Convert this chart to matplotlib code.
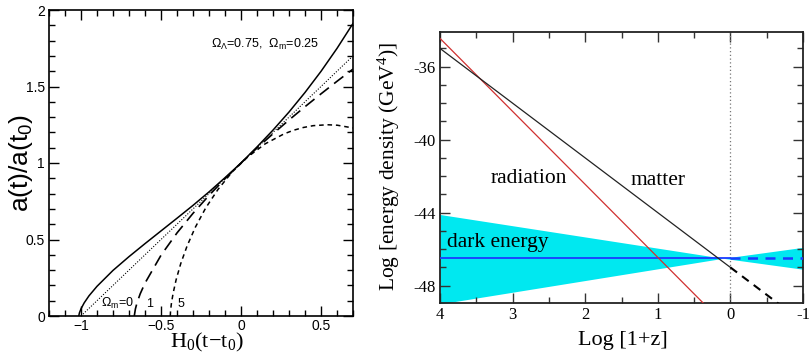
import matplotlib
matplotlib.use("Agg")
from matplotlib import pyplot as plt
from matplotlib.ticker import MultipleLocator

# left panel: scale factor vs H0(t - t0)
tau_lcdm = [-1.014, -1.01, -1.0, -0.98, -0.95, -0.9, -0.8, -0.7, -0.6, -0.5, -0.4,
            -0.3, -0.2, -0.1, 0.0, 0.1, 0.2, 0.3, 0.4, 0.5, 0.6, 0.7]
a_lcdm = [0.0, 0.020, 0.047, 0.086, 0.132, 0.194, 0.298, 0.388, 0.473, 0.556, 0.639,
          0.723, 0.811, 0.904, 1.0, 1.105, 1.215, 1.333, 1.461, 1.599, 1.749, 1.912]

tau_om0 = [-1.0, 0.7]
a_om0 = [0.0, 1.7]

tau_om1 = [-0.667, -0.66, -0.65, -0.63, -0.6, -0.5, -0.4, -0.3, -0.2, -0.1, 0.0,
           0.1, 0.2, 0.3, 0.4, 0.5, 0.6, 0.7]
a_om1 = [0.0, 0.046, 0.086, 0.145, 0.215, 0.397, 0.543, 0.671, 0.788, 0.897, 1.0,
         1.098, 1.191, 1.281, 1.368, 1.452, 1.534, 1.614]

tau_om5 = [-0.442, -0.4406, -0.4356, -0.4246, -0.4055, -0.3768, -0.3369, -0.285,
           -0.2207, -0.144, -0.0555, 0.0437, 0.1522, 0.2682, 0.3283, 0.3895, 0.4514,
           0.5397, 0.6013, 0.7003]
a_om5 = [0.0, 0.028, 0.077, 0.147, 0.237, 0.342, 0.458, 0.581, 0.706, 0.827, 0.941,
         1.041, 1.126, 1.190, 1.214, 1.232, 1.244, 1.25, 1.247, 1.229]

# right panel: log energy density vs log(1+z)
rad_x = [4.0, 0.0]
rad_y = [-34.45, -50.45]
mat_x = [4.0, 0.0]
mat_y = [-35.0, -47.0]
mat_future_x = [0.0, -0.7]
mat_future_y = [-47.0, -49.1]
de_level = -46.5
band_x = [4.0, 0.1, -1.0]
band_hi = [-44.1, -46.5, -45.9]
band_lo = [-49.0, -46.5, -47.1]

sans = "Liberation Sans"
serif = "Liberation Serif"

fig = plt.figure(figsize=(8.09, 3.55), dpi=100)

# ---- left
ax1 = fig.add_axes([49/809, 39/355, 304/809, 306/355])
ax1.plot(tau_lcdm, a_lcdm, color="k", lw=1.1)
ax1.plot(tau_om0, a_om0, color="k", lw=0.8, ls=(0, (1, 1.5)))
ax1.plot(tau_om1, a_om1, color="k", lw=1.2, ls=(0, (7, 4)))
ax1.plot(tau_om5, a_om5, color="k", lw=1.1, ls=(0, (3, 2.5)))
ax1.set_xlim(-1.2, 0.7)
ax1.set_ylim(0, 2)
ax1.xaxis.set_major_locator(MultipleLocator(0.5))
ax1.xaxis.set_minor_locator(MultipleLocator(0.1))
ax1.yaxis.set_major_locator(MultipleLocator(0.5))
ax1.yaxis.set_minor_locator(MultipleLocator(0.1))
ax1.xaxis.set_major_formatter(lambda v, p: "0" if abs(v) < 1e-9 else f"{v:g}".replace("-", "\u2212"))
ax1.yaxis.set_major_formatter(lambda v, p: f"{v:g}")
ax1.tick_params(which="both", direction="in", top=True, right=True, width=1.0, color="k")
ax1.tick_params(which="major", length=7, labelsize=10, pad=3)
ax1.tick_params(axis="x", which="major", pad=2)
ax1.tick_params(which="minor", length=4)
for lab in ax1.get_xticklabels() + ax1.get_yticklabels():
    lab.set_fontfamily(sans)
for sp in ax1.spines.values():
    sp.set_linewidth(1.2)
ax1.set_ylabel(r"$\mathregular{a(t)/a(t_0)}$", fontsize=19, fontfamily=sans)
ax1.yaxis.set_label_coords(-0.045, 0.5)
ax1.set_xlabel("H$\\mathregular{_0}$(t\u2212t$\\mathregular{_0}$)", fontsize=16, fontfamily=serif)
ax1.xaxis.set_label_coords(0.52, -0.05)
ax1.text(-0.19, 1.75, r"$\mathregular{\Omega_\Lambda}$=0.75,  $\mathregular{\Omega_m}$=0.25",
         fontsize=9, fontfamily=sans)
ax1.text(-0.877, 0.06, r"$\mathregular{\Omega_m}$=0", fontsize=9, fontfamily=sans)
ax1.text(-0.593, 0.06, "1", fontsize=9, fontfamily=sans)
ax1.text(-0.395, 0.06, "5", fontsize=9, fontfamily=sans)

# ---- right
ax2 = fig.add_axes([440/809, 52/355, 363/809, 271/355])
ax2.fill_between(band_x, band_lo, band_hi, color="#00e8f0", lw=0, zorder=1)
ax2.axhline(de_level, xmin=0, xmax=0.8, color="#1a3cff", lw=1.3, zorder=3)
ax2.plot([0.0, -1.0], [de_level, de_level], color="#1a3cff", lw=1.8,
         ls=(0, (4, 3)), zorder=3)
ax2.plot(rad_x, rad_y, color="#d03030", lw=0.9, zorder=4)
ax2.plot(mat_x, mat_y, color="#222222", lw=0.9, zorder=4)
ax2.plot(mat_future_x, mat_future_y, color="k", lw=1.5, ls=(0, (4, 3)), zorder=4)
ax2.axvline(0.0, color="#777777", lw=0.9, ls=(0, (1, 2)), zorder=2)
ax2.set_xlim(4, -1)
ax2.set_ylim(-48.95, -34.1)
ax2.xaxis.set_major_locator(MultipleLocator(1))
ax2.xaxis.set_minor_locator(MultipleLocator(0.5))
ax2.yaxis.set_major_locator(MultipleLocator(4))
ax2.yaxis.set_minor_locator(MultipleLocator(1))
ax2.xaxis.set_major_formatter(lambda v, p: f"{v:g}")
ax2.yaxis.set_major_formatter(lambda v, p: f"{v:g}")
ax2.tick_params(which="both", direction="in", top=True, right=True, width=1.0, color="#333333")
ax2.tick_params(which="major", length=7, labelsize=12, pad=3)
ax2.tick_params(which="minor", length=4)
for lab in ax2.get_xticklabels() + ax2.get_yticklabels():
    lab.set_fontfamily(serif)
for sp in ax2.spines.values():
    sp.set_linewidth(1.3)
    sp.set_color("#222222")
ax2.set_ylabel(r"Log [energy density (GeV$\mathregular{^4}$)]", fontsize=15.5, fontfamily=serif)
ax2.yaxis.set_label_coords(-0.105, 0.505)
ax2.set_xlabel("Log [1+z]", fontsize=16, fontfamily=serif)
ax2.xaxis.set_label_coords(0.504, -0.105)
ax2.text(2.774, -42.36, "radiation", fontsize=15.5, fontfamily=serif, ha="center", va="baseline")
ax2.text(1.0, -42.47, "matter", fontsize=15.5, fontfamily=serif, ha="center", va="baseline")
ax2.text(3.9, -45.9, "dark energy", fontsize=15.5, fontfamily=serif, ha="left", va="baseline", zorder=5)

fig.savefig("out.png", dpi=100)
